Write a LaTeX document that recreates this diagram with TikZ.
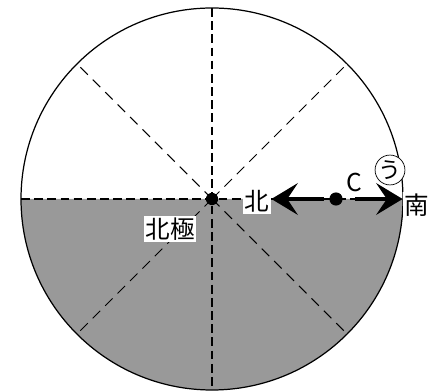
\documentclass[tikz,border=0pt]{standalone}
\usepackage{fontspec}
\setmainfont{Noto Sans CJK JP}
\usetikzlibrary{arrows.meta,positioning}

\begin{document}
\begin{tikzpicture}[
  x=0.02cm, y=0.02cm,
  >={Stealth[length=15pt,width=18pt,inset=6pt]},
  lbl/.style={fill=white, inner sep=1pt, font=\fontsize{14}{16}\selectfont},
  pt/.style={circle, fill=black, inner sep=0pt},
  ringlbl/.style={circle, draw, fill=white, inner sep=0pt, minimum size=17pt, font=\fontsize{13}{15}\selectfont}
]
  \useasboundingbox (-212,-192) rectangle (226,199);
  \fill[black!40] (-191,0) arc[start angle=180, end angle=360, radius=191] -- cycle;
  \draw[line width=0.9pt, dash pattern=on 5pt off 2.5pt] (-191,0) -- (191,0);
  \draw[line width=1.3pt, dash pattern=on 5pt off 2.5pt] (0,191) -- (0,-191);
  \foreach \a in {45,135,225,315}
    \draw[line width=0.6pt, dash pattern=on 6pt off 4pt] (0,0) -- (\a:191);
  \draw[line width=0.7pt] (0,0) circle[radius=191];

  \node[pt, minimum size=7pt] (pole) at (0,0) {};
  \node[lbl] (polelbl) at (-42,-30) {北極};
  \node[lbl] (north) at (45,-2) {北};
  \node[pt, minimum size=7.5pt] (c) at (124,0) {};
  \node[font=\fontsize{14}{16}\selectfont, inner sep=0pt] (clbl) at (142,17) {C};
  \node[lbl] (south) at (205,-6) {南};
  \node[ringlbl] (u) at (178,29) {う};

  \draw[->, line width=2.8pt, shorten <=3pt] (c) -- (c -| north.east);
  \draw[->, line width=2.8pt, shorten <=7pt] (c) -- (c -| south.west);
\end{tikzpicture}
\end{document}
